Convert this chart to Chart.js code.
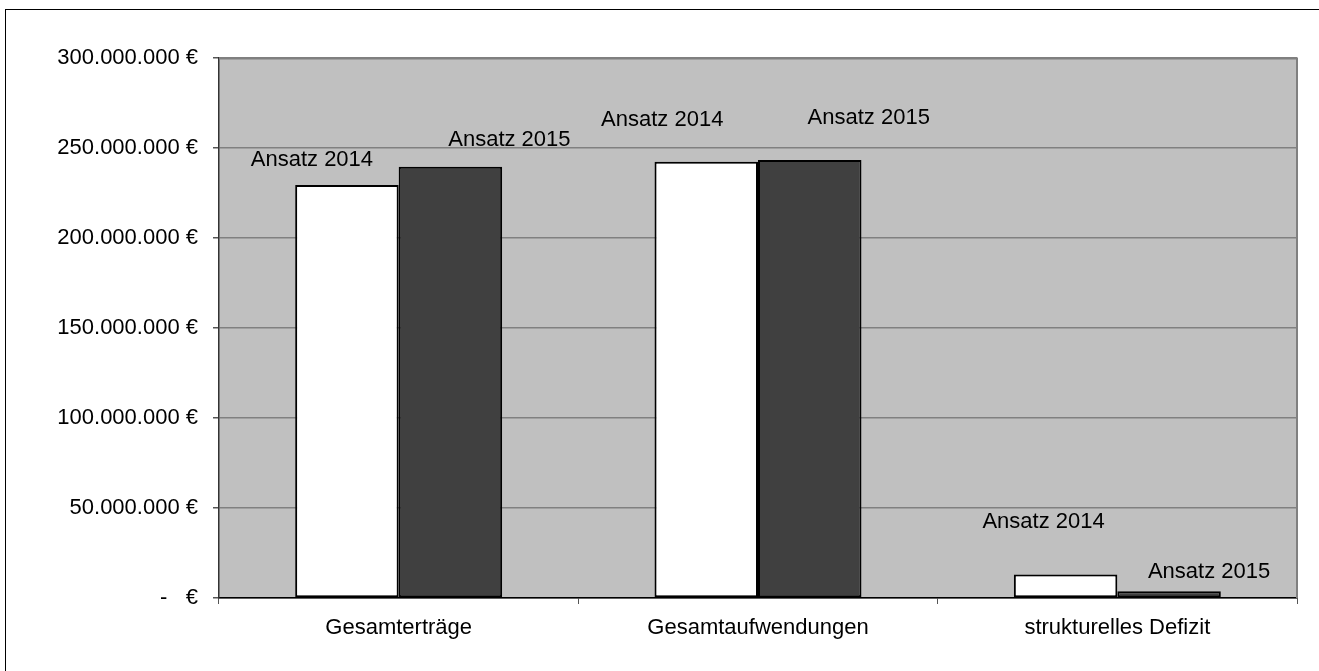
<!DOCTYPE html>
<html lang="de">
<head>
    <meta charset="UTF-8">
    <title>Ansatz 2014 / 2015</title>
    <script src="https://cdn.jsdelivr.net/npm/chart.js"></script>
    <style>
        html, body { margin: 0; padding: 0; background: #fff; }
        #wrap { width: 1319px; height: 671px; }
    </style>
</head>
<body>
    <div id="wrap">
        <canvas id="haushaltChart" width="1319" height="671"></canvas>
    </div>

    <script>
        // Kategorien und Werte (Euro)
        const categories = ['Gesamterträge', 'Gesamtaufwendungen', 'strukturelles Defizit'];
        const seriesNames = ['Ansatz 2014', 'Ansatz 2015'];
        const ansatz2014 = [229400000, 242400000, 13000000];
        const ansatz2015 = [239600000, 243400000, 3800000];
        const yTicks = [0, 50000000, 100000000, 150000000, 200000000, 250000000, 300000000];

        // manually placed data labels (pixel offsets from bar top centre)
        const labelOffsets = [
            [[-35, -25], [-44, -42], [-22, -53]],
            [[59, -27], [59, -42], [40, -19]]
        ];

        const FONT = '"Liberation Sans", Arial, sans-serif';
        const FONT_SIZE = 22;

        function euro(v) {
            if (v === 0) return '-   €';
            return String(v).replace(/\B(?=(\d{3})+(?!\d))/g, '.') + ' €';
        }

        // white page, outer frame, grey plot area
        const background = {
            id: 'background',
            beforeDraw(chart) {
                const ctx = chart.ctx;
                const a = chart.chartArea;
                ctx.save();
                ctx.fillStyle = '#fff';
                ctx.fillRect(0, 0, chart.width, chart.height);
                ctx.strokeStyle = '#000';
                ctx.lineWidth = 1;
                ctx.strokeRect(5.5, 9.5, 1400, 800);
                ctx.fillStyle = '#c0c0c0';
                ctx.fillRect(a.left, a.top, a.right - a.left, a.bottom - a.top);
                ctx.restore();
            },
            afterDraw(chart) {
                const ctx = chart.ctx;
                const a = chart.chartArea;
                ctx.save();
                ctx.strokeStyle = '#808080';
                ctx.lineWidth = 2;
                ctx.beginPath();
                ctx.moveTo(a.left, a.top + 0.5);
                ctx.lineTo(a.right, a.top + 0.5);
                ctx.lineTo(a.right, a.bottom);
                ctx.stroke();
                ctx.restore();
            }
        };

        const barLabels = {
            id: 'barLabels',
            afterDatasetsDraw(chart) {
                const ctx = chart.ctx;
                ctx.save();
                ctx.font = FONT_SIZE + 'px ' + FONT;
                ctx.fillStyle = '#000';
                ctx.textAlign = 'center';
                ctx.textBaseline = 'middle';
                chart.data.datasets.forEach((ds, i) => {
                    chart.getDatasetMeta(i).data.forEach((bar, j) => {
                        const off = labelOffsets[i][j];
                        ctx.fillText(ds.label, bar.x + off[0], bar.y + off[1]);
                    });
                });
                ctx.restore();
            }
        };

        new Chart(document.getElementById('haushaltChart'), {
            type: 'bar',
            data: {
                labels: categories,
                datasets: [{
                    label: seriesNames[0],
                    data: ansatz2014,
                    backgroundColor: '#ffffff',
                    borderColor: '#000',
                    borderWidth: 2,
                    borderSkipped: false
                }, {
                    label: seriesNames[1],
                    data: ansatz2015,
                    backgroundColor: '#404040',
                    borderColor: '#000',
                    borderWidth: 2,
                    borderSkipped: false
                }]
            },
            options: {
                responsive: false,
                animation: false,
                layout: { padding: { left: 0, top: 58, right: 22, bottom: 23 } },
                datasets: { bar: { categoryPercentage: 0.576, barPercentage: 1.0 } },
                plugins: {
                    legend: { display: false },
                    tooltip: { enabled: false }
                },
                scales: {
                    x: {
                        afterFit(s) { s.height = 50; },
                        grid: {
                            offset: true,
                            drawOnChartArea: false,
                            tickLength: 6,
                            tickColor: '#555'
                        },
                        border: { color: '#000', width: 1.5 },
                        ticks: { color: '#000', padding: 11, font: { family: FONT, size: FONT_SIZE } }
                    },
                    y: {
                        min: 0,
                        max: 300000000,
                        afterFit(s) { s.width = 219; },
                        afterBuildTicks(s) { s.ticks = yTicks.map(v => ({ value: v })); },
                        grid: {
                            color: '#808080',
                            lineWidth: 1.5,
                            tickLength: 6,
                            tickColor: '#555'
                        },
                        border: { color: '#333', width: 1.5 },
                        ticks: {
                            color: '#000',
                            padding: 15,
                            font: { family: FONT, size: FONT_SIZE },
                            callback: v => euro(v)
                        }
                    }
                }
            },
            plugins: [background, barLabels]
        });
    </script>
</body>
</html>
